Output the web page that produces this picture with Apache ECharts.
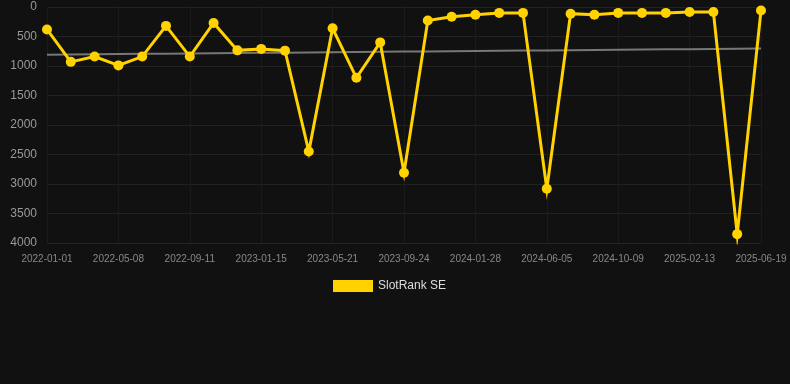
<!DOCTYPE html>
<html>
<head>
<meta charset="utf-8">
<script src="https://cdn.jsdelivr.net/npm/echarts@6/dist/echarts.min.js"></script>
<style>
  html, body { margin: 0; padding: 0; background: #111111; }
  #chart { width: 790px; height: 384px; }
</style>
</head>
<body>
<div id="chart"></div>
<script>
var dates = [
    '2022-01-01', '2022-02-12', '2022-03-26', '2022-05-08', '2022-06-19', '2022-07-31',
    '2022-09-11', '2022-10-23', '2022-12-04', '2023-01-15', '2023-02-26', '2023-04-09',
    '2023-05-21', '2023-07-02', '2023-08-13', '2023-09-24', '2023-11-05', '2023-12-17',
    '2024-01-28', '2024-03-10', '2024-04-22', '2024-06-05', '2024-07-17', '2024-08-28',
    '2024-10-09', '2024-11-20', '2025-01-01', '2025-02-13', '2025-03-27', '2025-05-08',
    '2025-06-19'
];

var ranks = [
    380, 930, 840, 990, 840, 320,
    840, 270, 735, 710, 740, 2450,
    360, 1200, 600, 2810, 230, 165,
    130, 100, 100, 3080, 113, 130,
    100, 100, 100, 85, 85, 3850,
    60
];

var yTicks = [0, 500, 1000, 1500, 2000, 2500, 3000, 3500, 4000];

// least squares trend over the rank series
function trendLine(vals) {
    var n = vals.length, sx = 0, sy = 0, sxy = 0, sxx = 0;
    vals.forEach(function (v, i) {
        sx += i; sy += v; sxy += i * v; sxx += i * i;
    });
    var slope = (n * sxy - sx * sy) / (n * sxx - sx * sx);
    var icpt = (sy - slope * sx) / n;
    return vals.map(function (v, i) { return icpt + slope * i; });
}

var myChart = echarts.init(document.getElementById('chart'));
myChart.setOption({
    backgroundColor: '#111111',
    animation: false,
    grid: { left: 47, right: 29, top: 7, bottom: 141 },
    legend: {
        bottom: 87,
        left: 328,
        itemWidth: 40,
        itemHeight: 12,
        itemGap: 10,
        data: [{ name: 'SlotRank SE', icon: 'rect' }],
        textStyle: { color: '#dddddd', fontSize: 12, fontFamily: 'Arial, Liberation Sans, sans-serif' }
    },
    xAxis: {
        type: 'category',
        data: dates,
        boundaryGap: false,
        axisLine: { show: false },
        axisTick: { show: false },
        axisLabel: {
            interval: 2,
            color: '#888888',
            fontSize: 10,
            margin: 11,
            fontFamily: 'Arial, Liberation Sans, sans-serif'
        },
        splitLine: { show: true, interval: 2, lineStyle: { color: '#1b1b1b', width: 1 } }
    },
    yAxis: {
        type: 'value',
        inverse: true,
        min: yTicks[0],
        max: yTicks[yTicks.length - 1],
        interval: 500,
        axisLine: { show: false },
        axisTick: { show: false },
        axisLabel: {
            color: '#999999',
            fontSize: 12,
            margin: 10,
            formatter: function (v) { return String(v); },
            fontFamily: 'Arial, Liberation Sans, sans-serif'
        },
        splitLine: { lineStyle: { color: '#222222', width: 1 } }
    },
    series: [
        {
            name: 'trend',
            type: 'line',
            data: trendLine(ranks),
            symbol: 'none',
            silent: true,
            lineStyle: { color: '#777777', width: 2 },
            z: 1
        },
        {
            name: 'SlotRank SE',
            type: 'line',
            data: ranks,
            symbol: 'circle',
            symbolSize: 10,
            itemStyle: { color: '#ffd200' },
            lineStyle: { color: '#ffd200', width: 3, join: 'miter', miterLimit: 20 },
            z: 2
        }
    ]
});
</script>
</body>
</html>
